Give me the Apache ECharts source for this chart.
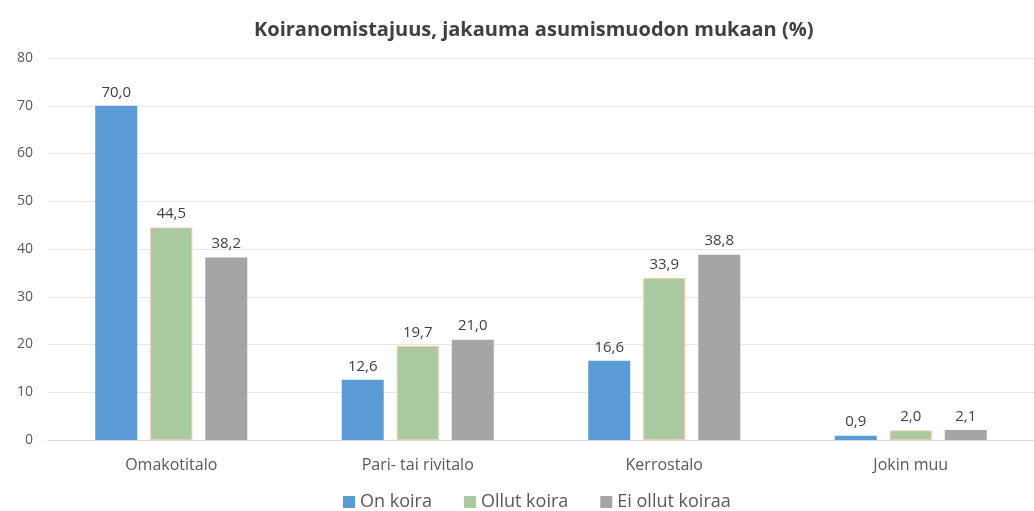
<!DOCTYPE html>
<html>
<head>
<meta charset="utf-8">
<script src="https://cdn.jsdelivr.net/npm/echarts@6/dist/echarts.min.js"></script>
<style>
  html, body { margin: 0; padding: 0; background: #fff; }
  #chart { width: 1034px; height: 511px; }
</style>
</head>
<body>
<div id="chart"></div>
<script>
// asumismuodot
const categories = ['Omakotitalo', 'Pari- tai rivitalo', 'Kerrostalo', 'Jokin muu']
const onKoira = [70.0, 12.6, 16.6, 0.9]
const ollutKoira = [44.5, 19.7, 33.9, 2.0]
const eiOllutKoiraa = [38.2, 21.0, 38.8, 2.1]
const yTicks = [0, 10, 20, 30, 40, 50, 60, 70, 80]

const font = 'Open Sans'
const labelFmt = p => p.value.toFixed(1).replace('.', ',')

const chart = echarts.init(document.getElementById('chart'))

function barSeries(name, data, color, border) {
  return {
    name: name,
    type: 'bar',
    data: data,
    barWidth: 42,
    barGap: '31%',
    itemStyle: {
      color: color,
      borderColor: border || color,
      borderWidth: border ? 1 : 0
    },
    label: {
      show: true,
      position: 'top',
      distance: 6,
      formatter: labelFmt,
      color: '#404040',
      fontFamily: font,
      fontSize: 15
    }
  }
}

chart.setOption({
  animation: false,
  textStyle: { fontFamily: font },
  title: {
    text: 'Koiranomistajuus, jakauma asumismuodon mukaan (%)',
    left: 249,
    top: 15,
    textStyle: {
      fontFamily: font,
      fontSize: 20,
      fontWeight: 'bold',
      color: '#404040'
    }
  },
  legend: {
    data: ['On koira', 'Ollut koira', 'Ei ollut koiraa'],
    left: 338,
    top: 488,
    icon: 'rect',
    itemWidth: 12,
    itemHeight: 12,
    itemGap: 32,
    itemStyle: { borderWidth: 0 },
    textStyle: { fontFamily: font, fontSize: 18, color: '#595959' }
  },
  grid: {
    left: 48,
    top: 58,
    width: 997,
    bottom: 71
  },
  xAxis: {
    type: 'category',
    data: categories,
    axisTick: { show: false },
    axisLine: { lineStyle: { color: '#d9d9d9' } },
    axisLabel: {
      margin: 17,
      color: '#595959',
      fontFamily: font,
      fontSize: 16
    }
  },
  yAxis: {
    type: 'value',
    min: yTicks[0],
    max: yTicks[yTicks.length - 1],
    interval: 10,
    axisLabel: {
      margin: 15,
      color: '#595959',
      fontFamily: font,
      fontSize: 14
    },
    splitLine: { lineStyle: { color: '#e6e6e6' } }
  },
  series: [
    barSeries('On koira', onKoira, '#5b9bd5'),
    barSeries('Ollut koira', ollutKoira, '#a9c9a0', '#f4c7a8'),
    barSeries('Ei ollut koiraa', eiOllutKoiraa, '#a5a5a5')
  ]
})
</script>
</body>
</html>
